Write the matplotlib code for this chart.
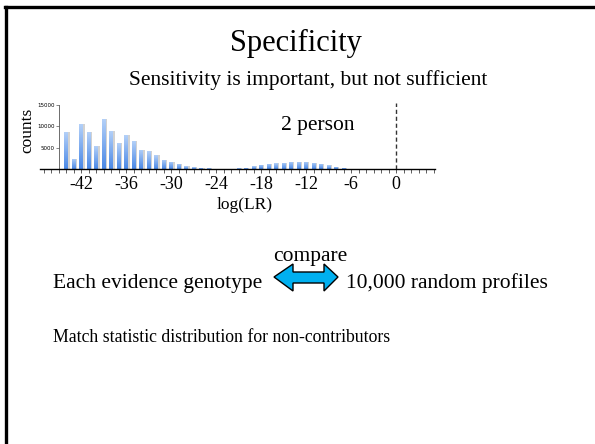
"""
Specificity slide: log(LR) histogram for non-contributors.
"""

import numpy as np
import matplotlib.pyplot as plt
from matplotlib.colors import LinearSegmentedColormap
from matplotlib.patches import Polygon
from matplotlib.lines import Line2D

plt.rcParams['font.family'] = ['Liberation Serif', 'DejaVu Serif']

# histogram data
lr_low = np.arange(-44, -24)          # first cluster, -44 .. -25
counts_low = [8600, 2400, 10500, 8600, 5300, 11700, 8850, 6000, 7900, 6500,
              4500, 4200, 3250, 2150, 1750, 1250, 700, 450, 300, 150]
lr_high = np.arange(-21, -6)          # second cluster, -21 .. -7
counts_high = [160, 320, 630, 950, 1200, 1350, 1500, 1650, 1650, 1650,
               1500, 1250, 870, 550, 300]

x_ticks = [-42, -36, -30, -24, -18, -12, -6, 0]
y_ticks = [5000, 10000, 15000]

W, H = 595, 444


def fx(px):
    return px / W


def fy(py):
    return 1 - py / H


fig = plt.figure(figsize=(W / 100, H / 100), dpi=100)

# slide frame (top and left edges only)
fig.add_artist(Line2D([fx(5), 1], [fy(7.5), fy(7.5)], color='black', lw=2.4))
fig.add_artist(Line2D([fx(6), fx(6)], [0, fy(7.5)], color='black', lw=2.4))

# texts
fig.text(fx(296), fy(43), 'Specificity', ha='center', va='center', fontsize=22)
fig.text(fx(308), fy(80), 'Sensitivity is important, but not sufficient',
         ha='center', va='center', fontsize=15.5)
fig.text(fx(310), fy(257), 'compare', ha='center', va='center', fontsize=15.5)
fig.text(fx(53), fy(283), 'Each evidence genotype', ha='left', va='center', fontsize=15.5)
fig.text(fx(346), fy(283), '10,000 random profiles', ha='left', va='center', fontsize=15.5)
fig.text(fx(53), fy(337), 'Match statistic distribution for non-contributors',
         ha='left', va='center', fontsize=12.8)

# double block arrow
arrow_px = [(274, 277), (293, 264), (293, 272), (324, 272), (324, 264), (338, 277),
            (324, 291), (324, 283), (293, 283), (293, 291)]
fig.add_artist(Polygon([(fx(x), fy(y)) for x, y in arrow_px], closed=True,
                       facecolor='#00b0f0', edgecolor='black', lw=1.0,
                       transform=fig.transFigure))

# histogram
ax = fig.add_axes([fx(40), fy(169), fx(435) - fx(40), (169 - 103) / H])
ax.patch.set_alpha(0)

cmap = LinearSegmentedColormap.from_list('bar', ['#4a88e6', '#b3d0f8'])
grad = np.linspace(0, 1, 64).reshape(-1, 1)
w = 0.5
for xs, ys in [(lr_low, counts_low), (lr_high, counts_high)]:
    # gray shadow
    ax.bar(xs + 0.2, ys, width=w, color='#d2d2d2', zorder=1)
    bars = ax.bar(xs, ys, width=w, color='none', zorder=2)
    for b in bars:
        x0, h = b.get_x(), b.get_height()
        im = ax.imshow(grad, extent=[x0, x0 + w, 0, h], origin='lower',
                       aspect='auto', cmap=cmap, zorder=2)
        im.set_clip_path(b)

ax.axvline(0, color='#333333', lw=1.0, ls=(0, (3, 2)), zorder=3)

ax.set_xlim(-47.5, 5.2)
ax.set_ylim(0, 15500)
for s in ['top', 'right']:
    ax.spines[s].set_visible(False)
ax.spines['left'].set_position(('data', -45))
ax.spines['left'].set_bounds(0, 15000)
ax.spines['left'].set_color('#555555')
ax.spines['left'].set_linewidth(0.6)
ax.spines['bottom'].set_linewidth(1.0)

ax.set_xticks(x_ticks)
ax.set_xticklabels([str(t) for t in x_ticks], fontsize=13)
ax.set_xticks(np.arange(-47, 6), minor=True)
ax.tick_params(axis='x', which='both', length=3, width=0.6, color='#444444', pad=2)
ax.set_yticks(y_ticks)
ax.set_yticklabels([str(t) for t in y_ticks], fontsize=4, family='DejaVu Sans')
ax.tick_params(axis='y', length=2, width=0.5, pad=1, color='#555555')

ax.text(-10.5, 10300, '2 person', ha='center', va='center', fontsize=15.5)
ax.set_xlabel('log(LR)', fontsize=12.5, labelpad=1)
ax.xaxis.set_label_coords((245 - 40) / 395, -0.42)
fig.text(fx(27), fy(130), 'counts', rotation=90, ha='center', va='center', fontsize=12.5)

plt.savefig('out.png', dpi=100)
